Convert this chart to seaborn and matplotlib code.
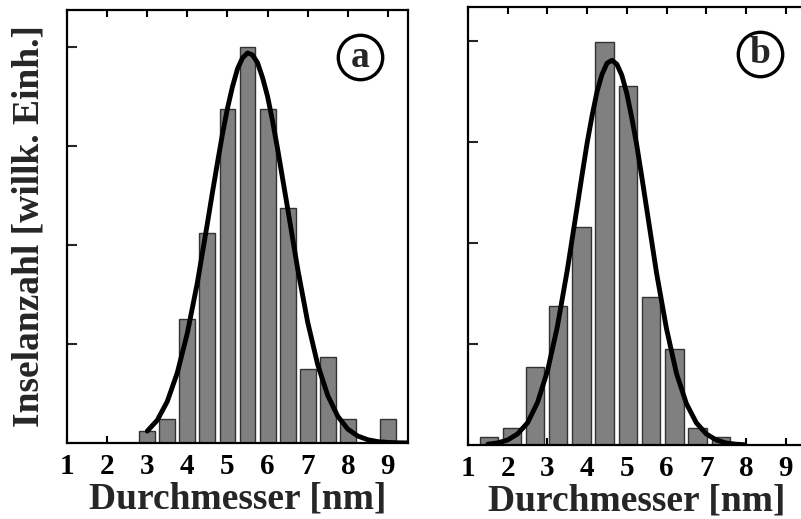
import matplotlib
matplotlib.use("Agg")
import matplotlib.pyplot as plt
import seaborn as sns

# histogram (a): bin centres [nm] and heights [arb. units]
a_centers = [3.0, 3.5, 4.0, 4.5, 5.0, 5.5, 6.0, 6.5, 7.0, 7.5, 8.0, 9.0]
a_counts = [0.12, 0.245, 1.25, 2.12, 3.37, 4.0, 3.37, 2.37, 0.75, 0.87, 0.245, 0.245]
# fit curve (a)
a_fit_x = [3.0, 3.25, 3.5, 3.75, 4.0, 4.25, 4.5, 4.625, 4.75, 4.875, 5.0, 5.125, 5.25, 5.375,
           5.5, 5.625, 5.75, 5.875, 6.0, 6.125, 6.25, 6.375, 6.5, 6.75, 7.0, 7.25, 7.5,
           7.75, 8.0, 8.25, 8.5, 8.75, 9.0, 9.25, 9.5]
a_fit_y = [0.12, 0.23, 0.42, 0.71, 1.11, 1.62, 2.22, 2.53, 2.83, 3.12, 3.38, 3.60, 3.78, 3.89,
           3.94, 3.92, 3.84, 3.69, 3.50, 3.25, 2.97, 2.67, 2.37, 1.76, 1.22, 0.79, 0.48,
           0.27, 0.14, 0.07, 0.033, 0.014, 0.006, 0.002, 0.001]

# histogram (b)
b_centers = [1.52, 2.10, 2.69, 3.27, 3.86, 4.44, 5.03, 5.61, 6.20, 6.78, 7.37]
b_counts = [0.076, 0.165, 0.77, 1.38, 2.16, 3.99, 3.55, 1.47, 0.95, 0.165, 0.076]
# fit curve (b)
b_fit_x = [1.5, 1.75, 2.0, 2.25, 2.5, 2.75, 3.0, 3.25, 3.5, 3.75, 3.875, 4.0, 4.125, 4.25,
           4.375, 4.5, 4.625, 4.75, 4.875, 5.0, 5.125, 5.25, 5.375, 5.5, 5.75, 6.0, 6.25,
           6.5, 6.75, 7.0, 7.25, 7.5, 7.75, 7.95]
b_fit_y = [0.008, 0.021, 0.05, 0.11, 0.22, 0.42, 0.73, 1.17, 1.73, 2.36, 2.68, 2.99, 3.26, 3.50,
           3.67, 3.78, 3.81, 3.77, 3.66, 3.48, 3.24, 2.97, 2.66, 2.34, 1.70, 1.15, 0.71,
           0.41, 0.22, 0.11, 0.05, 0.02, 0.008, 0.003]

xticks = [1, 2, 3, 4, 5, 6, 7, 8, 9]
xlabel = "Durchmesser [nm]"
ylabel = "Inselanzahl [willk. Einh.]"

sns.set_style("ticks")
plt.rcParams['font.family'] = ['Liberation Serif', 'DejaVu Serif']
plt.rcParams['font.weight'] = 'bold'
plt.rcParams['axes.labelweight'] = 'bold'

fig = plt.figure(figsize=(8.01, 5.19), dpi=100)
ax_a = fig.add_axes([67 / 801, 76 / 519, 341 / 801, 433 / 519])
ax_b = fig.add_axes([468 / 801, 74 / 519, 337.5 / 801, 438 / 519])

panels = [
    (ax_a, a_centers, a_counts, a_fit_x, a_fit_y, "a", 4.374, (0.859, 0.891)),
    (ax_b, b_centers, b_counts, b_fit_x, b_fit_y, "b", 4.337, (0.865, 0.893)),
]

for ax, cx, cy, fx, fy, tag, ytop, cpos in panels:
    sns.barplot(x=cx, y=cy, ax=ax, native_scale=True, width=0.79, color="#808080",
                saturation=1, edgecolor="#333333", linewidth=1, errorbar=None)
    sns.lineplot(x=fx, y=fy, ax=ax, color="black", linewidth=3.5, sort=False,
                 solid_joinstyle='round', solid_capstyle='round')
    ax.set_xlim(1, 9.5)
    ax.set_ylim(0, ytop)
    ax.set_xticks(xticks)
    ax.set_xticklabels([str(t) for t in xticks])
    ax.set_yticks([1, 2, 3, 4])
    ax.tick_params(axis='x', direction='in', top=True, bottom=True, length=5, width=1.5,
                   labelsize=21, pad=7, colors='black')
    ax.tick_params(axis='y', direction='in', left=True, right=False, length=7, width=1.5,
                   labelleft=False)
    for sp in ax.spines.values():
        sp.set_linewidth(1.6)
        sp.set_color("black")
    ax.set_xlabel(xlabel, fontsize=27, labelpad=1)
    ax.plot([cpos[0]], [cpos[1]], marker='o', ms=32, mfc='none', mec='black', mew=2.4,
            transform=ax.transAxes, clip_on=False)
    ax.text(cpos[0], cpos[1], tag, transform=ax.transAxes, ha='center', va='center',
            fontsize=27, fontweight='bold')

ax_a.set_ylabel(ylabel, fontsize=27, labelpad=15)

fig.savefig("out.png", dpi=100)
